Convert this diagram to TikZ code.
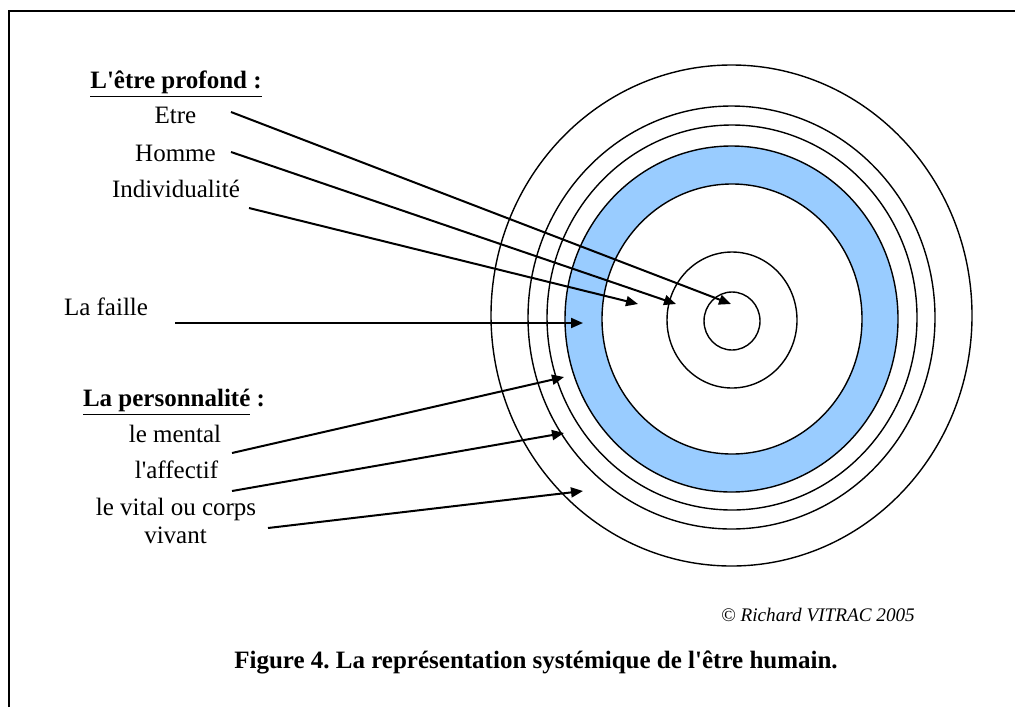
\documentclass[tikz,border=0pt]{standalone}
\usepackage{fontspec}
\usetikzlibrary{arrows.meta}
\newfontfamily\figfont{Liberation Serif}
\definecolor{faille}{RGB}{153,204,255}
\frenchspacing
\tikzset{
  lbl/.style={anchor=base, inner sep=0pt, font=\figfont\fontsize{12.5}{14}\selectfont},
  arr/.style={-{Triangle[length=6pt,width=5pt]}, line width=1pt},
  ring/.style={line width=0.7pt}
}
\begin{document}
\begin{tikzpicture}[x=0.5pt,y=-0.5pt]
            \useasboundingbox (0,0) rectangle (1015,707);
            \draw[line width=1pt] (9,707) -- (9,11) -- (1015,11);

            % les cercles
            \draw[ring] (731.5,315.5) ellipse [x radius=240.5, y radius=250.5];
            \draw[ring] (731.5,317.5) ellipse [x radius=203.5, y radius=211.5];
            \draw[ring] (732,317.5) ellipse [x radius=185, y radius=192.5];
            \draw[ring, fill=faille] (731.5,319) ellipse [x radius=166.5, y radius=173];
            \draw[ring, fill=white] (732,319) ellipse [x radius=130, y radius=135];
            \draw[ring] (732,320) ellipse [x radius=65, y radius=68];
            \draw[ring] (732,321) ellipse [x radius=28, y radius=29];

            \begin{scope}[
                    every node/.style={lbl}
                ]
                \node (profond) at (176,88) {\bfseries\underline{L'être profond :}};
                \node (etre) at (175.5,123) {Etre};
                \node (homme) at (175.5,161) {Homme};
                \node (indiv) at (176,197) {Individualité};
                \node (faille) at (106,315) {La faille};
                \node (perso) at (174,406.7) {\bfseries\underline{La personnalité} :};
                \node (mental) at (175,442.7) {le mental};
                \node (affectif) at (176.5,478) {l'affectif};
                \node (vital) at (176,515) {le vital ou corps};
                \node (vivant) at (175.5,543) {vivant};
                \node[font=\figfont\itshape\fontsize{9.6}{12}\selectfont] (copy) at (818,621.7) {© Richard VITRAC 2005};
                \node[font=\figfont\bfseries\fontsize{12.5}{14}\selectfont] (titre) at (536,668) {Figure 4. La représentation systémique de l'être humain.};
            \end{scope}

            \coordinate (etre-a) at (231,112);
            \coordinate (etre-b) at (731,304);
            \coordinate (homme-a) at (231,152);
            \coordinate (homme-b) at (676,304);
            \coordinate (indiv-a) at (249,208);
            \coordinate (indiv-b) at (638,304);
            \coordinate (faille-a) at (175,323);
            \coordinate (faille-b) at (583,323);
            \coordinate (mental-a) at (232,453);
            \coordinate (mental-b) at (564,377);
            \coordinate (affectif-a) at (232,491);
            \coordinate (affectif-b) at (564,433);
            \coordinate (vital-a) at (268,528);
            \coordinate (vital-b) at (583,491);

            \begin{scope}[
                    every edge/.style={draw, arr}
                ]
                \draw (etre-a) edge (etre-b);
                \draw (homme-a) edge (homme-b);
                \draw (indiv-a) edge (indiv-b);
                \draw (faille-a) edge (faille-b);
                \draw (mental-a) edge (mental-b);
                \draw (affectif-a) edge (affectif-b);
                \draw (vital-a) edge (vital-b);
            \end{scope}

        \end{tikzpicture}
\end{document}
